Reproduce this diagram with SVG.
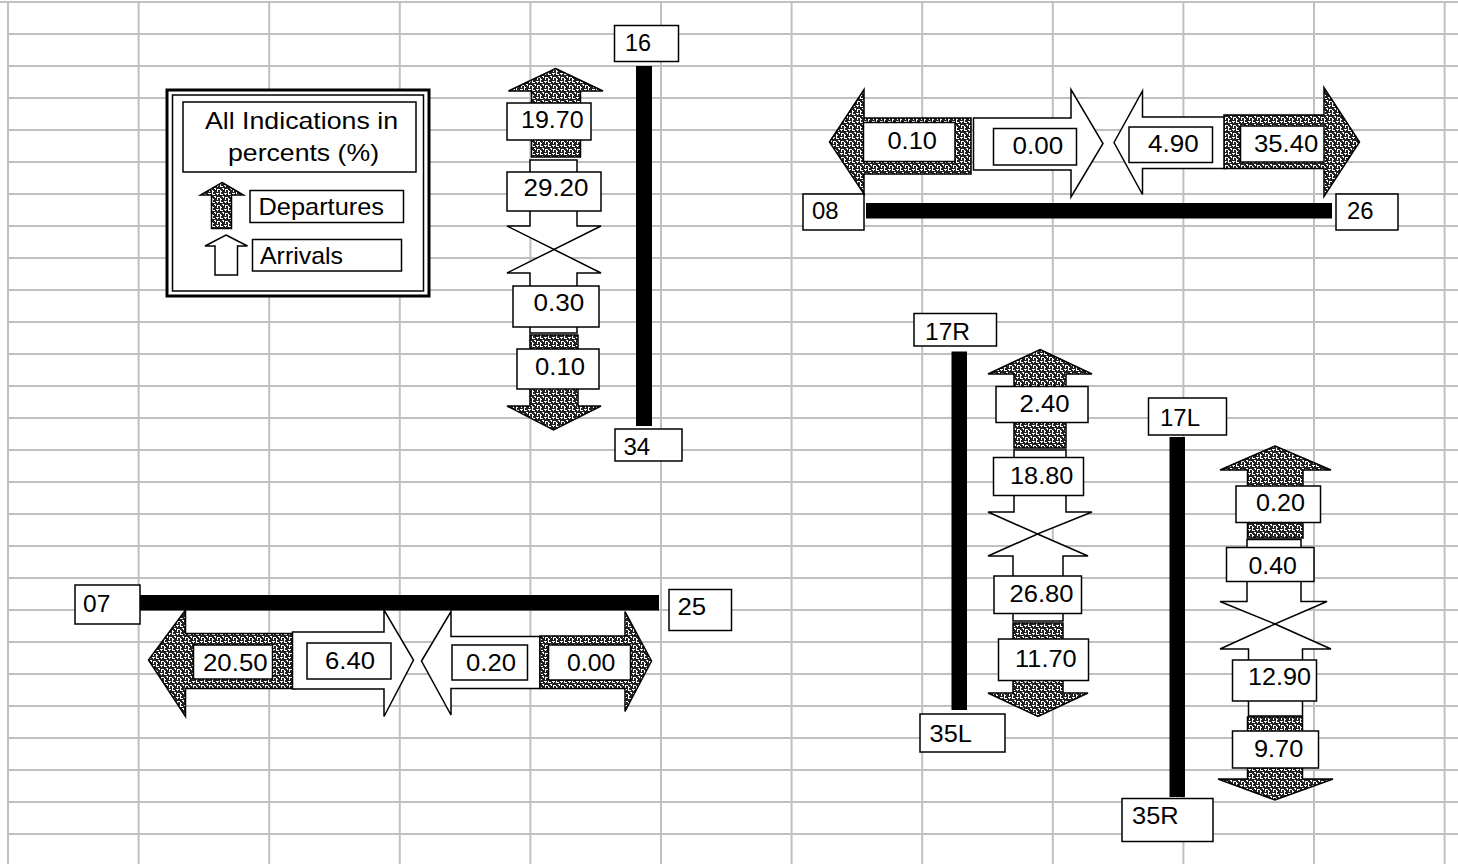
<svg xmlns="http://www.w3.org/2000/svg" width="1458" height="864" viewBox="0 0 1458 864">
<defs>
<pattern id="dots" width="8" height="8" patternUnits="userSpaceOnUse">
<rect width="8" height="8" fill="#222"/>
<path d="M0 1h3v1H0zM1 2h1v1H1zM4 0h1v3H4zM5 2h2v1H5zM6 4h2v1H6zM7 5h1v1H7zM1 5h1v3H1zM2 5h2v1H2zM4 6h1v2H4zM5 7h1v1H5z" fill="#fff"/>
</pattern>
<style>
.grid line{stroke:#c0c0c0;stroke-width:2}
.dep{fill:url(#dots);stroke:#000;stroke-width:1.5;stroke-linejoin:miter}
.arr{fill:#fff;stroke:#000;stroke-width:1.5;stroke-linejoin:miter}
.box{fill:#fff;stroke:#000;stroke-width:1.5}
.bar{fill:#000}
text{font-family:"Liberation Sans",Arial,sans-serif;font-size:24px;fill:#000}
</style>
</defs>
<rect width="1458" height="864" fill="#fff"/>
<g class="grid">
<line x1="0" y1="2" x2="1458" y2="2"/>
<line x1="8" y1="2" x2="8" y2="864"/><line x1="138.6" y1="2" x2="138.6" y2="864"/><line x1="269.2" y1="2" x2="269.2" y2="864"/><line x1="399.8" y1="2" x2="399.8" y2="864"/><line x1="530.4" y1="2" x2="530.4" y2="864"/><line x1="661" y1="2" x2="661" y2="864"/><line x1="791.6" y1="2" x2="791.6" y2="864"/><line x1="922.2" y1="2" x2="922.2" y2="864"/><line x1="1052.8" y1="2" x2="1052.8" y2="864"/><line x1="1183.4" y1="2" x2="1183.4" y2="864"/><line x1="1314" y1="2" x2="1314" y2="864"/><line x1="1444.6" y1="2" x2="1444.6" y2="864"/>
<line x1="8" y1="34" x2="1458" y2="34"/><line x1="8" y1="66" x2="1458" y2="66"/><line x1="8" y1="98" x2="1458" y2="98"/><line x1="8" y1="130" x2="1458" y2="130"/><line x1="8" y1="162" x2="1458" y2="162"/><line x1="8" y1="194" x2="1458" y2="194"/><line x1="8" y1="226" x2="1458" y2="226"/><line x1="8" y1="258" x2="1458" y2="258"/><line x1="8" y1="290" x2="1458" y2="290"/><line x1="8" y1="322" x2="1458" y2="322"/><line x1="8" y1="354" x2="1458" y2="354"/><line x1="8" y1="386" x2="1458" y2="386"/><line x1="8" y1="418" x2="1458" y2="418"/><line x1="8" y1="450" x2="1458" y2="450"/><line x1="8" y1="482" x2="1458" y2="482"/><line x1="8" y1="514" x2="1458" y2="514"/><line x1="8" y1="546" x2="1458" y2="546"/><line x1="8" y1="578" x2="1458" y2="578"/><line x1="8" y1="610" x2="1458" y2="610"/><line x1="8" y1="642" x2="1458" y2="642"/><line x1="8" y1="674" x2="1458" y2="674"/><line x1="8" y1="706" x2="1458" y2="706"/><line x1="8" y1="738" x2="1458" y2="738"/><line x1="8" y1="770" x2="1458" y2="770"/><line x1="8" y1="802" x2="1458" y2="802"/><line x1="8" y1="834" x2="1458" y2="834"/>
</g>

<g id="legend">
<rect x="167" y="90" width="262" height="206" fill="#fff" stroke="#000" stroke-width="3"/>
<rect x="172.5" y="95" width="251" height="196" fill="none" stroke="#000" stroke-width="1.5"/>
<rect class="box" x="183" y="102" width="233" height="70"/>
<text x="205" y="128.5" textLength="193" lengthAdjust="spacingAndGlyphs">All Indications in</text>
<text x="228" y="161" textLength="151" lengthAdjust="spacingAndGlyphs">percents (%)</text>
<polygon class="dep" points="222,182.5 243.5,195 231.5,195 231.5,228.5 211.5,228.5 211.5,195 200.5,195"/>
<rect class="box" x="250" y="190.5" width="153.5" height="32"/>
<text x="258.5" y="215" textLength="125.5" lengthAdjust="spacingAndGlyphs">Departures</text>
<polygon class="arr" points="226,235 247.5,246 237.5,246 237.5,275 215,275 215,246 205,246"/>
<rect class="box" x="252.5" y="239.5" width="149" height="31.5"/>
<text x="260" y="263.5" textLength="83" lengthAdjust="spacingAndGlyphs">Arrivals</text>
</g>

<g id="runway-16-34">
<rect class="bar" x="636" y="66" width="16" height="360"/>
<rect class="box" x="614.5" y="25.5" width="64" height="36"/>
<text x="625" y="51" textLength="26" lengthAdjust="spacingAndGlyphs">16</text>
<rect class="box" x="615" y="429" width="67" height="32"/>
<text x="623.5" y="455" textLength="26.7" lengthAdjust="spacingAndGlyphs">34</text>
</g>
<g id="flows-16-34">
<polygon class="dep" points="555.5,68.5 603,91 580.5,91 580.5,157 531.5,157 531.5,91 508.5,91"/>
<rect class="box" x="507" y="103" width="84" height="37"/>
<text x="521" y="127.5" textLength="62.6" lengthAdjust="spacingAndGlyphs">19.70</text>
<polygon class="arr" points="530,160 577,160 577,226 601,226 554,249.5 507,226 530,226"/>
<rect class="box" x="507" y="172" width="94" height="39"/>
<text x="523.5" y="196" textLength="65" lengthAdjust="spacingAndGlyphs">29.20</text>
<polygon class="arr" points="554,249.5 601,273 577,273 577,333 530,333 530,273 507,273"/>
<rect class="box" x="513" y="286" width="86" height="41"/>
<text x="533.5" y="311" textLength="50.7" lengthAdjust="spacingAndGlyphs">0.30</text>
<polygon class="dep" points="530,335 578,335 578,406 601,406 553.5,430 507,406 530,406"/>
<rect class="box" x="517" y="349" width="82" height="40"/>
<text x="535" y="374.5" textLength="50" lengthAdjust="spacingAndGlyphs">0.10</text>
</g>

<g id="runway-08-26">
<rect class="bar" x="866" y="203" width="466" height="15.5"/>
<rect class="box" x="803" y="194" width="61" height="36"/>
<text x="812" y="218.5" textLength="26.6" lengthAdjust="spacingAndGlyphs">08</text>
<rect class="box" x="1336" y="194" width="62" height="36"/>
<text x="1347" y="218.5" textLength="26.6" lengthAdjust="spacingAndGlyphs">26</text>
</g>
<g id="flows-08-26">
<polygon class="dep" points="829.5,142 864,89.5 864,118 971,118 971,174 864,174 864,194"/>
<rect class="box" x="863.5" y="122.5" width="91.5" height="39"/>
<text x="887.5" y="148.5" textLength="49.4" lengthAdjust="spacingAndGlyphs">0.10</text>
<polygon class="arr" points="973.5,118 1071,118 1071,89.5 1103,143.5 1071,197 1071,170 973.5,170"/>
<rect class="box" x="993.5" y="128.5" width="83" height="36.5"/>
<text x="1012.5" y="153.5" textLength="50.6" lengthAdjust="spacingAndGlyphs">0.00</text>
<polygon class="arr" points="1114,142.5 1142.5,91 1142.5,117 1226,117 1226,168.5 1142.5,168.5 1142.5,194.5"/>
<rect class="box" x="1129" y="127" width="83.5" height="35.5"/>
<text x="1148" y="152" textLength="50.6" lengthAdjust="spacingAndGlyphs">4.90</text>
<polygon class="dep" points="1224,115 1324,115 1324,87.5 1359.5,142 1324,196.5 1324,168.5 1224,168.5"/>
<rect class="box" x="1240.5" y="126" width="83.5" height="36"/>
<text x="1254" y="152" textLength="64.3" lengthAdjust="spacingAndGlyphs">35.40</text>
</g>

<g id="runway-07-25">
<rect class="bar" x="137" y="595" width="522" height="15.5"/>
<rect class="box" x="75" y="585" width="65" height="39"/>
<text x="83" y="612" textLength="27.3" lengthAdjust="spacingAndGlyphs">07</text>
<rect class="box" x="669" y="589.5" width="62.5" height="41"/>
<text x="677.5" y="615" textLength="28.7" lengthAdjust="spacingAndGlyphs">25</text>
</g>
<g id="flows-07-25">
<polygon class="dep" points="148.5,660 185.5,610 185.5,633.5 295,633.5 295,688.5 185.5,688.5 185.5,716.5"/>
<rect class="box" x="193.5" y="645" width="79" height="34"/>
<text x="203" y="671" textLength="64.6" lengthAdjust="spacingAndGlyphs">20.50</text>
<polygon class="arr" points="292.5,632 384,632 384,610 413.5,660 384,716.5 384,689 292.5,689"/>
<rect class="box" x="307" y="643" width="84" height="36"/>
<text x="325" y="668.5" textLength="50" lengthAdjust="spacingAndGlyphs">6.40</text>
<polygon class="arr" points="421.5,661 451,611.5 451,636.5 540,636.5 540,688.5 451,688.5 451,715"/>
<rect class="box" x="452" y="645" width="75.5" height="35"/>
<text x="466" y="671" textLength="50" lengthAdjust="spacingAndGlyphs">0.20</text>
<polygon class="dep" points="540,636 625,636 625,611.5 651.5,661 625,711.5 625,688.5 540,688.5"/>
<rect class="box" x="548.5" y="645" width="82" height="35"/>
<text x="567" y="671" textLength="48.3" lengthAdjust="spacingAndGlyphs">0.00</text>
</g>

<g id="runway-17R-35L">
<rect class="bar" x="951.5" y="351.5" width="15.5" height="358.5"/>
<rect class="box" x="914" y="313.5" width="82.5" height="32.5"/>
<text x="925" y="339.5" textLength="45" lengthAdjust="spacingAndGlyphs">17R</text>
<rect class="box" x="920" y="714" width="85" height="38"/>
<text x="929.5" y="742" textLength="42.4" lengthAdjust="spacingAndGlyphs">35L</text>
</g>
<g id="flows-17R-35L">
<polygon class="dep" points="1040,349.5 1092,374 1066,374 1066,448 1014,448 1014,374 988,374"/>
<rect class="box" x="996" y="386.5" width="92" height="36"/>
<text x="1019.5" y="412" textLength="50" lengthAdjust="spacingAndGlyphs">2.40</text>
<polygon class="arr" points="1014,450 1066,450 1066,512 1092,512 1037.5,534 988,512 1014,512"/>
<rect class="box" x="993.5" y="457.5" width="90" height="38"/>
<text x="1010" y="484" textLength="63.3" lengthAdjust="spacingAndGlyphs">18.80</text>
<polygon class="arr" points="1037.5,534 1088,556 1063,556 1063,621 1013,621 1013,556 988,556"/>
<rect class="box" x="994" y="576" width="87.5" height="37.5"/>
<text x="1009.5" y="602" textLength="64" lengthAdjust="spacingAndGlyphs">26.80</text>
<polygon class="dep" points="1013,623 1063,623 1063,693 1088,693 1038,716.5 988,693 1013,693"/>
<rect class="box" x="998.5" y="639" width="90" height="41.5"/>
<text x="1015" y="667" textLength="61.7" lengthAdjust="spacingAndGlyphs">11.70</text>
</g>

<g id="runway-17L-35R">
<rect class="bar" x="1169.5" y="437" width="15.5" height="360"/>
<rect class="box" x="1148.5" y="398" width="78" height="37"/>
<text x="1160" y="426" textLength="40" lengthAdjust="spacingAndGlyphs">17L</text>
<rect class="box" x="1122" y="798.5" width="91" height="43"/>
<text x="1132" y="824" textLength="46.6" lengthAdjust="spacingAndGlyphs">35R</text>
</g>
<g id="flows-17L-35R">
<polygon class="dep" points="1275,446 1331,470 1303,470 1303,538 1247.5,538 1247.5,470 1220,470"/>
<rect class="box" x="1236" y="486" width="84.5" height="36.5"/>
<text x="1256" y="511" textLength="49" lengthAdjust="spacingAndGlyphs">0.20</text>
<polygon class="arr" points="1247,539.5 1301,539.5 1301,601.5 1327,601.5 1275,624 1220,601.5 1247,601.5"/>
<rect class="box" x="1226.5" y="547.5" width="87.5" height="34"/>
<text x="1248.5" y="573.5" textLength="48.4" lengthAdjust="spacingAndGlyphs">0.40</text>
<polygon class="arr" points="1275,624 1331,649 1302.5,649 1302.5,716 1248.5,716 1248.5,649 1220,649"/>
<rect class="box" x="1232.5" y="660" width="84" height="41"/>
<text x="1248" y="685" textLength="63" lengthAdjust="spacingAndGlyphs">12.90</text>
<polygon class="dep" points="1247.5,717 1302.5,717 1302.5,779 1333,779 1275,800 1218,779 1247.5,779"/>
<rect class="box" x="1232.5" y="731" width="86" height="37"/>
<text x="1254" y="757" textLength="49.3" lengthAdjust="spacingAndGlyphs">9.70</text>
</g>
</svg>
